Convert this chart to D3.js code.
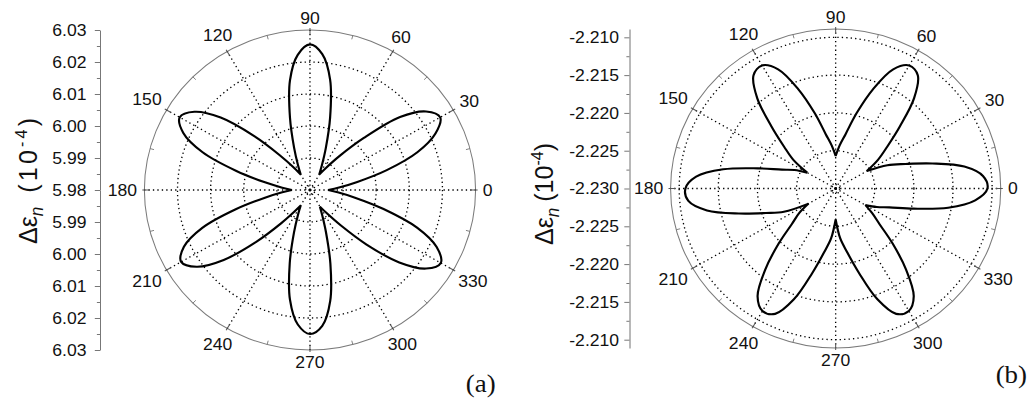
<!DOCTYPE html>
<html>
<head>
<meta charset="utf-8">
<script src="https://cdn.jsdelivr.net/npm/d3@7"></script>
<style>
  html, body { margin: 0; padding: 0; background: #fff; }
  svg { display: block; }
  text { font-family: "Liberation Sans", Arial, sans-serif; fill: #111; }
</style>
</head>
<body>
<svg id="chart" width="1031" height="398"></svg>
<script>
// ---------------- DATA ----------------
const angles = [0,5,10,15,20,25,30,35,40,45,50,55,60,65,70,75,80,85,90,95,100,105,110,115,
  120,125,130,135,140,145,150,155,160,165,170,175,180,185,190,195,200,205,210,215,220,225,230,235,
  240,245,250,255,260,265,270,275,280,285,290,295,300,305,310,315,320,325,330,335,340,345,350,355];

// panel (a) radial values
const valuesA = [5.9855,5.9888,5.9945,6.0040,6.0145,6.0218,6.0254,6.0228,6.0155,6.0030,5.9938,5.9884,
  5.9856,5.9885,5.9940,6.0035,6.0150,6.0226,6.0255,6.0224,6.0148,6.0033,5.9940,5.9886,
  5.9856,5.9887,5.9942,6.0038,6.0152,6.0226,6.0254,6.0222,6.0145,6.0030,5.9938,5.9884,
  5.9855,5.9884,5.9938,6.0032,6.0146,6.0220,6.0249,6.0218,6.0140,6.0028,5.9936,5.9883,
  5.9856,5.9886,5.9941,6.0036,6.0148,6.0222,6.0250,6.0226,6.0152,6.0038,5.9942,5.9888,
  5.9860,5.9889,5.9944,6.0040,6.0152,6.0228,6.0256,6.0222,6.0144,6.0030,5.9938,5.9884];
const notchesA = [0, 60, 120, 180, 240, 300];

// panel (b) radial values
const valuesB = [-2.2106,-2.2111,-2.2133,-2.2172,-2.2205,-2.2227,-2.2254,-2.2234,-2.2214,-2.2184,-2.2144,-2.2117,
  -2.2112,-2.2126,-2.2160,-2.2197,-2.2227,-2.2243,-2.2257,-2.2243,-2.2227,-2.2197,-2.2160,-2.2126,
  -2.2112,-2.2117,-2.2144,-2.2184,-2.2214,-2.2234,-2.2258,-2.2242,-2.2227,-2.2197,-2.2154,-2.2121,
  -2.2108,-2.2111,-2.2133,-2.2172,-2.2205,-2.2227,-2.2260,-2.2243,-2.2227,-2.2197,-2.2160,-2.2126,
  -2.2113,-2.2117,-2.2144,-2.2184,-2.2214,-2.2234,-2.2259,-2.2234,-2.2214,-2.2184,-2.2144,-2.2117,
  -2.2113,-2.2126,-2.2160,-2.2197,-2.2227,-2.2243,-2.2256,-2.2242,-2.2227,-2.2197,-2.2154,-2.2121];
const notchesB = [30, 90, 150, 210, 270, 330];

const angleLabels = ["0","30","60","90","120","150","180","210","240","270","300","330"];
const spokeAngles = [0,30,60,90,120,150,180,210,240,270,300,330];
const minorAngles = [15,45,75,105,135,165,195,225,255,285,315,345];

const rDomainA = [5.98, 6.03];
const ringsA = [5.9813, 5.99, 6.00, 6.01, 6.02];
const ticksA = [5.98, 5.99, 6.00, 6.01, 6.02, 6.03];
const minorTicksA = [5.985, 5.995, 6.005, 6.015, 6.025];

const rDomainB = [-2.230, -2.2089];
const ringsB = [-2.2295, -2.225, -2.220, -2.215, -2.210];
const ticksB = [-2.230, -2.225, -2.220, -2.215, -2.210];
const minorTicksB = [-2.2275, -2.2225, -2.2175, -2.2125];

const panelLabels = ["(a)", "(b)"];

// ---------------- LAYOUT ----------------
const SX = 1.035; // horizontal stretch of the original figure
const svg = d3.select("#chart");
const root = svg.append("g").attr("transform", `scale(${SX},1)`);

const panels = [
  { values: valuesA, notches: notchesA, rDomain: rDomainA, rings: ringsA, ticks: ticksA, minor: minorTicksA,
    fmt: d => d.toFixed(2), cx: 299.5, cy: 190, R: 160, axisX: 96.6, pad: 8,
    labelX: 36, labelY: 244, gap: 14, parenSpacing: 3.2,
    tagX: 450, tagY: 392, tag: panelLabels[0] },
  { values: valuesB, notches: notchesB, rDomain: rDomainB, rings: ringsB, ticks: ticksB, minor: minorTicksB,
    fmt: d => d.toFixed(3), cx: 807.4, cy: 188.5, R: 159.5, axisX: 608.2, pad: 5,
    labelX: 534.5, labelY: 245, gap: 6, parenSpacing: 0,
    tagX: 962, tagY: 383, tag: panelLabels[1] }
];

const rad = a => a * Math.PI / 180;

panels.forEach(p => {
  const r = d3.scaleLinear().domain(p.rDomain).range([0, p.R]);
  const g = root.append("g");

  // outer circle
  g.append("circle").attr("cx", p.cx).attr("cy", p.cy).attr("r", p.R)
    .attr("fill", "none").attr("stroke", "#7a7a7a").attr("stroke-width", 1);

  // dotted rings
  g.selectAll(".ring").data(p.rings).enter().append("circle")
    .attr("cx", p.cx).attr("cy", p.cy).attr("r", d => r(d))
    .attr("fill", "none").attr("stroke", "#000").attr("stroke-width", 1.3)
    .attr("stroke-dasharray", "1.3,3");

  // dotted spokes
  g.selectAll(".spoke").data(spokeAngles).enter().append("line")
    .attr("x1", p.cx).attr("y1", p.cy)
    .attr("x2", d => p.cx + p.R * Math.cos(rad(d)))
    .attr("y2", d => p.cy - p.R * Math.sin(rad(d)))
    .attr("stroke", "#000").attr("stroke-width", 1.3).attr("stroke-dasharray", "1.3,3");

  // major ticks on circle
  g.selectAll(".mt").data(spokeAngles).enter().append("line")
    .attr("x1", d => p.cx + (p.R - 5) * Math.cos(rad(d)))
    .attr("y1", d => p.cy - (p.R - 5) * Math.sin(rad(d)))
    .attr("x2", d => p.cx + (p.R + 2) * Math.cos(rad(d)))
    .attr("y2", d => p.cy - (p.R + 2) * Math.sin(rad(d)))
    .attr("stroke", "#555").attr("stroke-width", 1);
  // minor ticks
  g.selectAll(".mn").data(minorAngles).enter().append("line")
    .attr("x1", d => p.cx + (p.R - 4) * Math.cos(rad(d)))
    .attr("y1", d => p.cy - (p.R - 4) * Math.sin(rad(d)))
    .attr("x2", d => p.cx + p.R * Math.cos(rad(d)))
    .attr("y2", d => p.cy - p.R * Math.sin(rad(d)))
    .attr("stroke", "#777").attr("stroke-width", 0.9);

  // angle labels
  const fs = 17;
  const labelDist = (d, i) => {
    const hw = angleLabels[i].length * 0.556 * fs / 2, hh = 0.3 * fs;
    return p.R + 7 + Math.abs(Math.cos(rad(d))) * hw + Math.abs(Math.sin(rad(d))) * hh;
  };
  g.selectAll(".al").data(spokeAngles).enter().append("text")
    .attr("x", (d, i) => p.cx + labelDist(d, i) * Math.cos(rad(d)))
    .attr("y", (d, i) => p.cy - labelDist(d, i) * Math.sin(rad(d)))
    .attr("text-anchor", "middle").attr("dominant-baseline", "central")
    .style("font-size", fs + "px")
    .text((d, i) => angleLabels[i]);

  // data curve: one smooth segment per petal, sharp cusps at the notches
  const pts = angles.map((a, i) => ({ a, v: p.values[i] }));
  const line = d3.line()
    .x(d => p.cx + r(d.v) * Math.cos(rad(d.a)))
    .y(d => p.cy - r(d.v) * Math.sin(rad(d.a)))
    .curve(d3.curveCatmullRom.alpha(0.5));
  let dStr = "";
  p.notches.forEach((n0, k) => {
    let n1 = p.notches[(k + 1) % p.notches.length];
    if (n1 <= n0) n1 += 360;
    const seg = [];
    pts.forEach(q => {
      const a1 = q.a, a2 = q.a + 360;
      if (a1 >= n0 && a1 <= n1) seg.push({ a: a1, v: q.v });
      else if (a2 >= n0 && a2 <= n1) seg.push({ a: a2, v: q.v });
    });
    seg.sort((u, w) => u.a - w.a);
    let s = line(seg);
    if (k > 0) s = "L" + s.slice(1);
    dStr += s;
  });
  g.append("path").attr("d", dStr + "Z").attr("fill", "none")
    .attr("stroke", "#000").attr("stroke-width", 2.1)
    .attr("stroke-linejoin", "miter").attr("stroke-miterlimit", 3);

  // left radial axis (upper and lower halves)
  const yUp = d3.scaleLinear().domain(p.rDomain).range([p.cy, p.cy - p.R]);
  const yDn = d3.scaleLinear().domain(p.rDomain).range([p.cy, p.cy + p.R]);
  [yUp, yDn].forEach((sc, k) => {
    const ax = g.append("g").attr("transform", `translate(${p.axisX},0)`)
      .call(d3.axisLeft(sc).tickValues(k === 0 ? p.ticks : p.ticks.slice(1))
        .tickFormat(p.fmt).tickSize(5).tickSizeOuter(0).tickPadding(p.pad));
    ax.select(".domain").attr("stroke", "#777");
    ax.selectAll(".tick line").attr("stroke", "#777");
    ax.selectAll(".tick text").style("font-size", "17px").attr("fill", "#111")
      .style("font-family", '"Liberation Sans", Arial, sans-serif');
    const axm = g.append("g").attr("transform", `translate(${p.axisX},0)`)
      .call(d3.axisLeft(sc).tickValues(p.minor).tickFormat("").tickSize(3).tickSizeOuter(0));
    axm.select(".domain").remove();
    axm.selectAll(".tick line").attr("stroke", "#777");
  });

  // axis title
  const t = g.append("text")
    .attr("transform", `translate(${p.labelX},${p.labelY}) rotate(-90)`)
    .style("font-size", "25px");
  t.append("tspan").text("Δε");
  t.append("tspan").attr("dy", 6).style("font-size", "17px").style("font-style", "italic").text("n");
  t.append("tspan").attr("dy", -6).attr("dx", p.gap).style("letter-spacing", p.parenSpacing + "px").text("(10");
  t.append("tspan").attr("dy", -10).style("font-size", "16px").style("letter-spacing", p.parenSpacing + "px").text("-4");
  t.append("tspan").attr("dy", 10).text(")");

  // panel tag
  g.append("text").attr("x", p.tagX).attr("y", p.tagY)
    .style("font-family", '"Liberation Serif", "Times New Roman", serif')
    .style("font-size", "26px").text(p.tag);
});
</script>
</body>
</html>
